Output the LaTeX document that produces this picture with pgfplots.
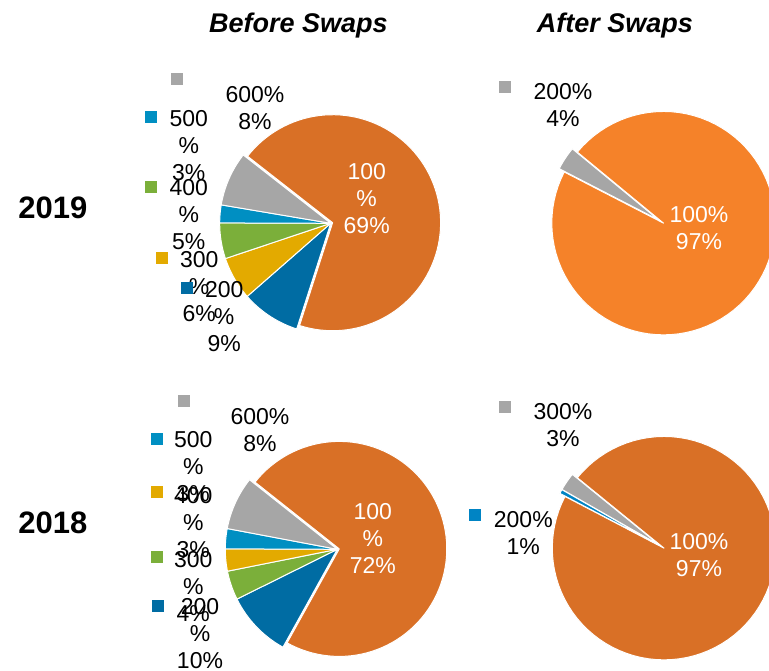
\documentclass[border=0pt]{standalone}
\usepackage{fontspec}
\setmainfont{Liberation Sans}
\usepackage{pgfplots}
\usepackage{pgfplotstable}
\pgfplotsset{compat=1.18}

\definecolor{orA}{RGB}{217,112,38}
\definecolor{orB}{RGB}{245,130,41}
\definecolor{gry}{RGB}{166,166,166}
\definecolor{ltblue}{RGB}{0,143,194}
\definecolor{blueB}{RGB}{0,132,196}
\definecolor{grn}{RGB}{123,175,58}
\definecolor{yell}{RGB}{227,170,0}
\definecolor{dkblue}{RGB}{0,108,163}

% share in %, slice colour, explosion (px), radius (px); slices run clockwise
\pgfplotstableread{
share col off rad
69.4 orA 2 108
8.6 dkblue 0 111
6.3 yell 0 111
5.2 grn 0 111
2.6 ltblue 0 111
7.9 gry 0 111
}\pieTopBefore

\pgfplotstableread{
share col off rad
96.6 orB 3 111.7
3.4 gry 3 111.7
}\pieTopAfter

\pgfplotstableread{
share col off rad
72.4 orA 2 107.5
9.6 dkblue 0 112
4.2 grn 0 112
3.2 yell 0 112
2.9 ltblue 0 112
7.7 gry 0 112
}\pieBotBefore

\pgfplotstableread{
share col off rad
96.8 orA 3 111.7
0.6 blueB 3 111.7
2.6 gry 3 111.7
}\pieBotAfter

% #1 table, #2 #3 centre, #4 start angle
\newcommand\drawpie[4]{%
  \pgfplotstablegetrowsof{#1}%
  \pgfmathtruncatemacro\lastrow{\pgfplotsretval-1}%
  \edef\angA{#4}%
  \pgfplotsforeachungrouped \i in {0,...,\lastrow}{%
    \pgfplotstablegetelem{\i}{share}\of{#1}\let\sh\pgfplotsretval
    \pgfplotstablegetelem{\i}{col}\of{#1}\let\cl\pgfplotsretval
    \pgfplotstablegetelem{\i}{off}\of{#1}\let\ex\pgfplotsretval
    \pgfplotstablegetelem{\i}{rad}\of{#1}\let\rd\pgfplotsretval
    \pgfmathsetmacro\angB{\angA-3.6*\sh}%
    \pgfmathsetmacro\cx{#2+\ex*cos((\angA+\angB)/2)}%
    \pgfmathsetmacro\cy{#3-\ex*sin((\angA+\angB)/2)}%
    \edef\next{\noexpand\addplot[fill=\cl,draw=white,line width=1bp,line join=round,
      domain=\angB:\angA,samples=90]
      ({\cx+\rd*cos(x)},{\cy-\rd*sin(x)}) -- (axis cs:\cx,\cy) -- cycle;}%
    \next
    \let\angA\angB
  }%
}

\newcommand\lbl[4][black]{%
  \node[text=#1,anchor=north,align=center,inner sep=0pt,
    font=\fontsize{23bp}{27bp}\selectfont] at (axis cs:#2,#3) {#4};}

\begin{document}
\begin{tikzpicture}
\begin{axis}[
  width=769bp, height=671bp, scale only axis,
  xmin=0, xmax=769, ymin=0, ymax=671, y dir=reverse,
  hide axis, clip=true,
]
\drawpie{\pieTopBefore}{330.7}{223.3}{142}
\drawpie{\pieBotBefore}{337.3}{549.3}{141.6}
\drawpie{\pieTopAfter}{661}{221.5}{140.5}
\drawpie{\pieBotAfter}{661.5}{546.5}{140.9}

% label keys
\addplot[only marks, mark=square*, color=gry, mark size=5.5bp]
  coordinates {(176.8,78.8) (183.2,400.8) (505,87) (505,407)};
\addplot[only marks, mark=square*, color=ltblue, mark size=5.5bp]
  coordinates {(150.8,116.2) (156.5,438.5)};
\addplot[only marks, mark=square*, color=grn, mark size=5.5bp]
  coordinates {(150.8,186.5) (156.5,556.5)};
\addplot[only marks, mark=square*, color=yell, mark size=5.5bp]
  coordinates {(161.2,257.5) (156.5,491.7)};
\addplot[only marks, mark=square*, color=dkblue, mark size=5.5bp]
  coordinates {(186.2,287.5) (157.5,605.2)};
\addplot[only marks, mark=square*, color=blueB, mark size=5.5bp]
  coordinates {(475,515)};

% titles
\node[anchor=base,font=\fontsize{27bp}{30bp}\selectfont\bfseries\itshape]
  at (axis cs:298.3,32.7) {Before Swaps};
\node[anchor=base,font=\fontsize{27bp}{30bp}\selectfont\bfseries\itshape]
  at (axis cs:615,32.7) {After Swaps};
\node[anchor=base,font=\fontsize{31bp}{34bp}\selectfont\bfseries]
  at (axis cs:52.8,218.3) {2019};
\node[anchor=base,font=\fontsize{31bp}{34bp}\selectfont\bfseries]
  at (axis cs:52.8,533.3) {2018};

% 2019 before
\lbl{255}{86}{600\%\\8\%}
\lbl{188.8}{110}{500\\\%\\3\%}
\lbl{188.8}{179.3}{400\\\%\\5\%}
\lbl{199.2}{251.7}{300\\\%\\6\%}
\lbl{224.2}{281.7}{200\\\%\\9\%}
\lbl[white]{366.7}{163.3}{100\\\%\\69\%}

% 2018 before
\lbl{260}{408.3}{600\%\\8\%}
\lbl{193.3}{431.7}{500\\\%\\3\%}
\lbl{193.3}{487.3}{400\\\%\\3\%}
\lbl{193.3}{551.7}{300\\\%\\4\%}
\lbl{200}{598.3}{200\\\%\\10\%}
\lbl[white]{372.8}{503.3}{100\\\%\\72\%}

% after
\lbl{563}{83.3}{200\%\\4\%}
\lbl[white]{699}{206.7}{100\%\\97\%}
\lbl{563}{403.3}{300\%\\3\%}
\lbl{523.3}{511.7}{200\%\\1\%}
\lbl[white]{699}{533.3}{100\%\\97\%}
\end{axis}
\pgfresetboundingbox
\useasboundingbox (current axis.south west) rectangle (current axis.north east);
\end{tikzpicture}
\end{document}
